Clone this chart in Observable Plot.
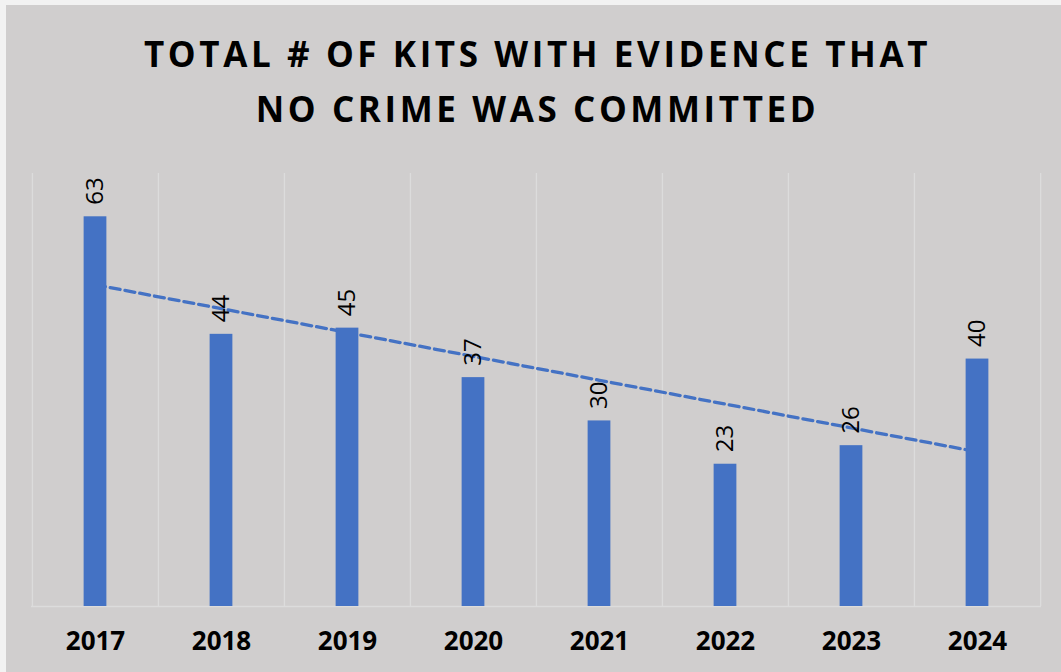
<!DOCTYPE html>
<html>
<head>
<meta charset="utf-8">
<script src="https://cdn.jsdelivr.net/npm/d3@7"></script>
<script src="https://cdn.jsdelivr.net/npm/@observablehq/plot@0.6"></script>
<style>
  html, body { margin: 0; padding: 0; background: #f2f2f2; width: 1061px; height: 672px; overflow: hidden; }
  #chart { position: absolute; left: 6px; top: 5px; width: 1055px; height: 667px; background: #d0cece; }
  #title { position: absolute; left: 4px; top: 21px; width: 1055px; text-align: center;
           font-family: "Open Sans", sans-serif; font-weight: bold; font-size: 35px; line-height: 55px;
           letter-spacing: 3.6px; color: #000; }
  #plot { position: absolute; left: 0; top: 140px; }
</style>
</head>
<body>
<div id="chart">
  <div id="title">TOTAL # OF KITS WITH EVIDENCE THAT<br>NO CRIME WAS COMMITTED</div>
  <div id="plot"></div>
</div>
<script>
const years = ["2017", "2018", "2019", "2020", "2021", "2022", "2023", "2024"];
const kits = [63, 44, 45, 37, 30, 23, 26, 40];

const data = years.map((year, i) => ({year, value: kits[i]}));

// Linear trendline (least squares) computed from the data
const xs = kits.map((_, i) => i + 1);
const mx = d3.mean(xs), my = d3.mean(kits);
const slope = d3.sum(xs, (x, i) => (x - mx) * (kits[i] - my)) / d3.sum(xs, x => (x - mx) ** 2);
const trend = years.map((year, i) => ({year, value: my + slope * (xs[i] - mx)}));

const W = 1055, H = 527;
const mL = 25, mR = 20, mT = 28, mB = 66;
const bw = (W - mL - mR) / years.length;
const barW = 23;
const inset = (bw - barW) / 2;
const grid = "#dcdcdc";
const blue = "#4472c4";

const chart = Plot.plot({
  width: W, height: H,
  marginLeft: mL, marginRight: mR, marginTop: mT, marginBottom: mB,
  style: {background: "transparent", overflow: "visible"},
  x: {type: "band", domain: years, padding: 0, label: null},
  y: {domain: [0, 70], label: null, axis: null},
  marks: [
    Plot.ruleX(years, {x: d => d, dx: -bw / 2, stroke: grid, strokeWidth: 1.3}),
    Plot.ruleX(years.slice(-1), {x: d => d, dx: bw / 2, stroke: grid, strokeWidth: 1.3}),
    Plot.ruleY([0], {stroke: grid, strokeWidth: 1.5}),
    Plot.line(trend, {x: "year", y: "value", stroke: blue, strokeWidth: 3.3, strokeDasharray: "10,5"}),
    Plot.barY(data, {x: "year", y: "value", fill: blue, insetLeft: inset, insetRight: inset}),
    Plot.text(data, {x: "year", y: "value", text: d => String(d.value), rotate: -90, textAnchor: "start",
      lineAnchor: "middle", dy: -12, fontSize: 24, fill: "#000",
      fontFamily: "Open Sans, sans-serif"}),
    Plot.axisX({tickSize: 0, tickPadding: 25, fontSize: 26, fontWeight: "bold", label: null,
      fontFamily: "Open Sans, sans-serif", fill: "#000", style: "letter-spacing: 2.5px"})
  ]
});
chart.querySelectorAll("text").forEach(t => { t.style.fontFamily = "Open Sans, sans-serif"; });
document.getElementById("plot").appendChild(chart);
</script>
</body>
</html>
